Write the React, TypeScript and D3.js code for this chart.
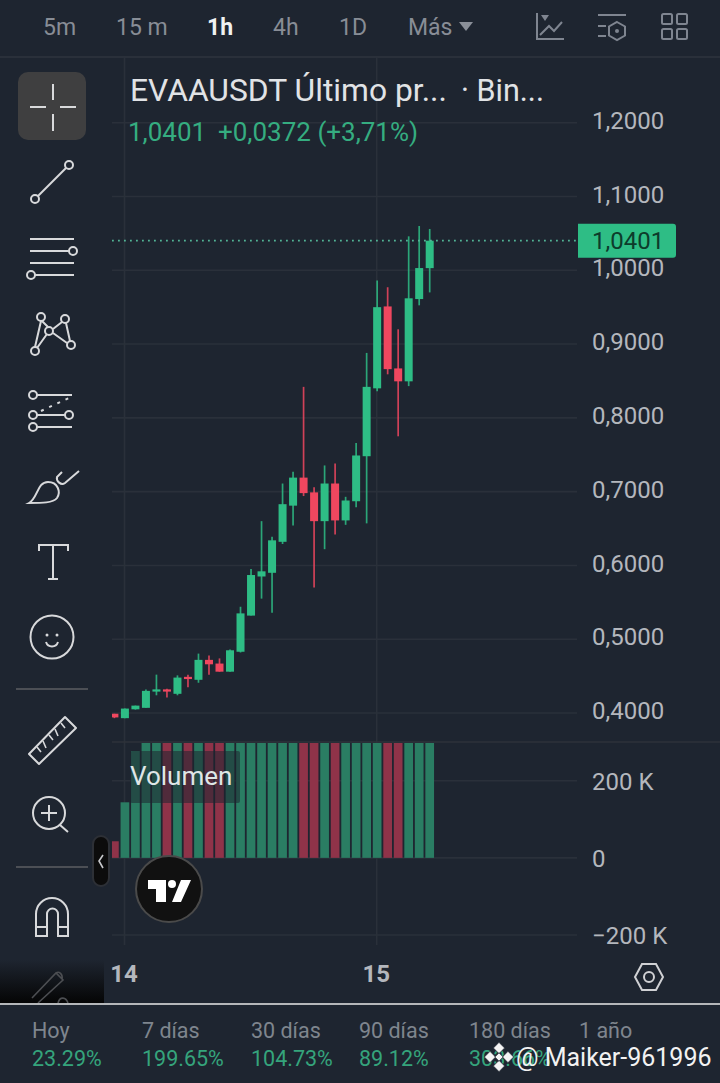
import React, { useEffect, useRef } from 'react';
import * as d3 from 'd3';

// hourly candles
const opens = [0.399, 0.393, 0.405, 0.407, 0.429, 0.432, 0.426, 0.449, 0.445, 0.472, 0.467, 0.456, 0.483, 0.532, 0.585, 0.59, 0.632, 0.681, 0.719, 0.699, 0.66, 0.711, 0.661, 0.687, 0.748, 0.84, 0.951, 0.867, 0.8495, 0.961, 1.0029];
const closes = [0.394, 0.406, 0.41, 0.43, 0.432, 0.429, 0.448, 0.446, 0.472, 0.466, 0.456, 0.485, 0.535, 0.587, 0.592, 0.634, 0.683, 0.719, 0.698, 0.66, 0.711, 0.661, 0.688, 0.749, 0.842, 0.95, 0.866, 0.8495, 0.962, 1.003, 1.0401];
const highs = [0.399, 0.406, 0.41, 0.432, 0.452, 0.433, 0.451, 0.452, 0.4805, 0.478, 0.474, 0.486, 0.544, 0.595, 0.66, 0.639, 0.711, 0.727, 0.842, 0.706, 0.7355, 0.738, 0.693, 0.766, 0.888, 0.986, 0.977, 0.92, 1.046, 1.06, 1.056];
const lows = [0.393, 0.393, 0.4046, 0.407, 0.424, 0.421, 0.424, 0.435, 0.441, 0.452, 0.456, 0.456, 0.482, 0.532, 0.555, 0.536, 0.629, 0.654, 0.694, 0.57, 0.622, 0.642, 0.655, 0.679, 0.657, 0.836, 0.859, 0.775, 0.843, 0.9525, 0.97];
// most of the bars run off the top of the pane, so those are only lower bounds
const volumes = [43000, 144000, 277000, 320000, 320000, 320000, 320000, 320000, 320000, 320000, 320000, 320000, 320000, 320000, 320000, 320000, 320000, 320000, 320000, 320000, 320000, 320000, 320000, 320000, 320000, 320000, 320000, 320000, 320000, 320000, 320000];

const priceTicks = [0.4, 0.5, 0.6, 0.7, 0.8, 0.9, 1.0, 1.1, 1.2];
const volumeTicks = [-200000, 0, 200000];
const dayTicks = [1, 25];
const dayLabels = ['14', '15'];
const lastPrice = 1.0401;

const periods = ['5m', '15 m', '1h', '4h', '1D', 'Más'];
const periodX = [43, 116, 207, 273, 339, 408];
const rangeNames = ['Hoy', '7 días', '30 días', '90 días', '180 días', '1 año'];
const rangeValues = ['23.29%', '199.65%', '104.73%', '89.12%', '303.66%', ''];
const rangeX = [32, 142, 251, 359, 469, 579];

const BG = '#1e2530';
const GRID = '#2a303a';
const UP = '#2ebd85';
const DOWN = '#f0475f';
const UP_VOL = '#2a7d63';
const DOWN_VOL = '#8f3349';
const AXIS_TEXT = '#b4b7bd';
const FONT = 'Roboto, sans-serif';
const ICON = '#d8d9db';

const Sidebar = () => (
  <g fill="none" stroke={ICON} strokeWidth={2}>
    <rect x={18} y={72} width={68} height={68} rx={10} fill="#3f3f40" stroke="none" />
    <path d="M53 84V100M53 114V131M30 107H46M60 107H76" />
    <path d="M38 196L66 168" />
    <circle cx={35} cy={199} r={4} />
    <circle cx={69} cy={165} r={4} />
    <path d="M30 239H74M30 251H69M30 263H74M35 275H74" />
    <circle cx={73} cy={251} r={4} />
    <circle cx={31} cy={275} r={4} />
    <path d="M41 321L35 347M37 348L47 334M42 321L48 327M53 329L62 322M66 323L70 341M53 333L67 343" />
    <circle cx={41} cy={317} r={4} />
    <circle cx={65} cy={319} r={4} />
    <circle cx={49} cy={331} r={4} />
    <circle cx={71} cy={345} r={4} />
    <circle cx={35} cy={351} r={4} />
    <path d="M37 395H72M37 415H65M37 427H72" />
    <circle cx={33} cy={395} r={4} />
    <circle cx={33} cy={415} r={4} />
    <circle cx={69} cy={415} r={4} />
    <circle cx={33} cy={427} r={4} />
    <path d="M41 411L69 398" strokeDasharray="3 6" />
    <path d="M29 503C38 498 37 482 48 482C58 482 61 492 57 498C53 503 42 503 29 503Z" />
    <path d="M62 472L57 477C56 481 61 486 65 483L79 471" />
    <path d="M39 551V545H68V551M53 545V579M48 579H58" />
    <circle cx={52} cy={637} r={21.5} />
    <circle cx={47} cy={635} r={1.5} fill={ICON} stroke="none" />
    <circle cx={57} cy={635} r={1.5} fill={ICON} stroke="none" />
    <path d="M46 642C48 648 56 648 58 642" />
    <path d="M16 689H88M16 867H88" stroke="#4c4f55" />
    <path d="M29 754L65 717L76 728L39 764Z" strokeLinejoin="round" />
    <path d="M37 747L41 752M43 741L46 748M49 735L53 740M55 729L58 736M61 723L65 728" strokeWidth={1.6} />
    <circle cx={49} cy={813} r={16} />
    <path d="M49 805V821M41 813H57M60 825L68 832" />
    <path d="M36 936V914A16 16 0 0 1 68 914V936H58V914A5.5 5.5 0 0 0 47 914V936ZM36 927H47M58 927H68" />
    <path d="M32 998L56 973L63 980L38 1003M56 973C59 971 63 974 62 979M58 1003C60 996 66 997 68 1003" stroke="#4c4e52" strokeWidth={1.6} />
    <rect x={93} y={836} width={16} height={50} rx={8} fill="#0c0c0c" stroke="#2d3036" />
    <path d="M103 855L99 861L103 868" stroke="#c8c9cc" strokeWidth={1.6} />
    <circle cx={169} cy={889} r={33} fill="#111" stroke="#4a4a4a" />
    <path d="M148 880H166V902H156V889H148ZM191 880L181 902H172L181 880Z" fill="#fff" stroke="none" />
    <circle cx={172} cy={884} r={4} fill="#fff" stroke="none" />
  </g>
);

const TopIcons = () => (
  <g fill="none" stroke="#7f8590" strokeWidth={2}>
    <path d="M537 13V39H564M540 35L549 26L554 31L562 22" />
    <path d="M541 15H549L545 21Z" fill="#7f8590" stroke="none" />
    <path d="M598 15H626M598 26H606M598 36H606M617 22L625 26.5V35.5L617 40L609 35.5V26.5Z" />
    <circle cx={617} cy={31} r={2} fill="#7f8590" stroke="none" />
    <rect x={662} y={14} width={10} height={10} rx={1.5} />
    <rect x={677} y={14} width={10} height={10} rx={1.5} />
    <rect x={662} y={29} width={10} height={10} rx={1.5} />
    <rect x={677} y={29} width={10} height={10} rx={1.5} />
    <path d="M459 22H473L466 31Z" fill="#8a8f98" stroke="none" />
  </g>
);

const App: React.FC = () => {
  const chartRef = useRef<SVGGElement | null>(null);

  useEffect(() => {
    document.body.style.margin = '0';
    document.body.style.background = BG;
    if (!chartRef.current) return;

    const x = d3.scaleLinear().domain([0, 30]).range([114.4, 429.7]);
    const yPrice = d3.scaleLinear().domain([0.4, 1.2]).range([713, 122.7]);
    const yVolume = d3.scaleLinear().domain([-200000, 200000]).range([935, 780.7]);
    const left = 112;
    const right = 577;
    const paneTop = 743;
    const candleWidth = 8;
    const barWidth = 8.7;

    const root = d3.select(chartRef.current);
    root.selectAll('*').remove();

    const defs = root.append('defs');
    defs.append('clipPath').attr('id', 'price-clip')
      .append('rect').attr('x', left).attr('y', 57).attr('width', right - left).attr('height', paneTop - 57);
    defs.append('clipPath').attr('id', 'volume-clip')
      .append('rect').attr('x', left).attr('y', paneTop).attr('width', right - left).attr('height', 200);

    // vertical day lines
    root.append('g').selectAll('line').data(dayTicks).enter().append('line')
      .attr('x1', d => x(d) - 0.4).attr('x2', d => x(d) - 0.4)
      .attr('y1', 57).attr('y2', 945)
      .attr('stroke', GRID).attr('stroke-width', 1.6);

    // horizontal grid for both panes
    const grid = root.append('g').attr('stroke', GRID).attr('stroke-width', 1.6);
    grid.selectAll('line.p').data(priceTicks).enter().append('line').attr('class', 'p')
      .attr('x1', left).attr('x2', right)
      .attr('y1', d => yPrice(d)).attr('y2', d => yPrice(d));
    grid.selectAll('line.v').data(volumeTicks).enter().append('line').attr('class', 'v')
      .attr('x1', left).attr('x2', right)
      .attr('y1', d => yVolume(d)).attr('y2', d => yVolume(d));
    root.append('line').attr('x1', left).attr('x2', 720).attr('y1', 742).attr('y2', 742)
      .attr('stroke', '#2e323a').attr('stroke-width', 1.6);

    // volume bars, clipped at the pane top
    root.append('g').attr('clip-path', 'url(#volume-clip)')
      .selectAll('rect').data(volumes).enter().append('rect')
      .attr('x', (d, i) => x(i) - barWidth / 2)
      .attr('width', barWidth)
      .attr('y', d => yVolume(d))
      .attr('height', d => yVolume(0) - yVolume(d))
      .attr('fill', (d, i) => (closes[i] >= opens[i] ? UP_VOL : DOWN_VOL));

    // candles
    const candles = root.append('g').attr('clip-path', 'url(#price-clip)')
      .selectAll('g').data(opens).enter().append('g')
      .attr('fill', (d, i) => (closes[i] >= opens[i] ? UP : DOWN))
      .attr('stroke', (d, i) => (closes[i] >= opens[i] ? UP : DOWN));
    candles.append('line')
      .attr('x1', (d, i) => x(i)).attr('x2', (d, i) => x(i))
      .attr('y1', (d, i) => yPrice(highs[i])).attr('y2', (d, i) => yPrice(lows[i]))
      .attr('stroke-width', 1.7).attr('stroke-opacity', 0.85);
    candles.append('rect')
      .attr('x', (d, i) => x(i) - candleWidth / 2)
      .attr('width', candleWidth)
      .attr('y', (d, i) => yPrice(Math.max(opens[i], closes[i])))
      .attr('height', (d, i) => Math.max(1.5, Math.abs(yPrice(opens[i]) - yPrice(closes[i]))))
      .attr('stroke', 'none');

    // last price line and tag
    root.append('line').attr('x1', left).attr('x2', right)
      .attr('y1', yPrice(lastPrice)).attr('y2', yPrice(lastPrice))
      .attr('stroke', '#52b596').attr('stroke-width', 1.8).attr('stroke-dasharray', '1.8 4.2');
    root.append('path')
      .attr('d', `M578 ${yPrice(lastPrice) - 17}H673a3 3 0 0 1 3 3V${yPrice(lastPrice) + 14}a3 3 0 0 1 -3 3H578Z`)
      .attr('fill', UP);

    // legend box lies over the bars
    root.append('rect').attr('x', 130).attr('y', 751).attr('width', 110).attr('height', 52)
      .attr('rx', 2).attr('fill', BG).attr('fill-opacity', 0.55);

    // axes
    const styleAxis = (g: d3.Selection<SVGGElement, unknown, null, undefined>) => {
      g.select('.domain').remove();
      g.selectAll('.tick line').remove();
      g.selectAll('text')
        .attr('fill', AXIS_TEXT)
        .attr('font-family', FONT)
        .attr('font-size', 24)
        .attr('x', 0);
    };
    const priceAxis = d3.axisRight(yPrice)
      .tickValues(priceTicks)
      .tickFormat(d => (d as number).toFixed(4).replace('.', ','));
    root.append('g').attr('transform', 'translate(592,-2)').call(priceAxis).attr('fill', null).call(styleAxis);

    const volumeAxis = d3.axisRight(yVolume)
      .tickValues(volumeTicks)
      .tickFormat(d => {
        const v = d as number;
        if (v === 0) return '0';
        return `${v < 0 ? '−' : ''}${Math.abs(v) / 1000} K`;
      });
    root.append('g').attr('transform', 'translate(592,1)').call(volumeAxis).attr('fill', null).call(styleAxis);

    const dayAxis = d3.axisBottom(x)
      .tickValues(dayTicks)
      .tickFormat((d, i) => dayLabels[i]);
    const dayG = root.append('g').attr('transform', 'translate(0,965)').call(dayAxis).attr('fill', null);
    dayG.call(styleAxis);
    dayG.selectAll('text').attr('font-weight', 700).attr('y', 0).attr('dy', '0.71em').attr('text-anchor', 'middle');
    dayG.selectAll('.tick').attr('transform', d => `translate(${x(d as number) - 1},0)`);

    root.append('text').attr('x', 592).attr('y', yPrice(lastPrice)).attr('dy', '0.35em')
      .attr('font-family', FONT).attr('font-size', 24).attr('fill', '#0d3b2b')
      .text(lastPrice.toFixed(4).replace('.', ','));
  }, []);

  return (
    <svg width={720} height={1083} viewBox="0 0 720 1083" style={{ display: 'block', position: 'absolute', left: 0, top: 0, background: BG }} fontFamily={FONT}>
      <defs>
        <linearGradient id="fade" x1="0" y1="0" x2="0" y2="1">
          <stop offset="0" stopColor={BG} />
          <stop offset="1" stopColor="#050505" />
        </linearGradient>
      </defs>
      <line x1={0} x2={720} y1={57} y2={57} stroke={GRID} strokeWidth={2} />
      <g ref={chartRef} />

      {periods.map((p, i) => (
        <text key={p} x={periodX[i]} y={35} fontSize={23} fontWeight={p === '1h' ? 700 : 400} fill={p === '1h' ? '#f0f1f2' : '#888d96'}>{p}</text>
      ))}
      <TopIcons />

      <text x={130} y={101} fontSize={31.8} fill="#e1e3e6">EVAAUSDT Último pr...</text>
      <text x={461} y={101} fontSize={30.5} fill="#e1e3e6">· Bin...</text>
      <text x={128} y={141} fontSize={26} fill="#35ad80">1,0401</text>
      <text x={218} y={141} fontSize={26} fill="#35ad80">+0,0372 (+3,71%)</text>
      <text x={130} y={785} fontSize={26} fill="#dfe6e6">Volumen</text>

      <rect x={0} y={960} width={104} height={43} fill="url(#fade)" />
      <Sidebar />

      <path d="M635 977L642 964H656L663 977L656 990H642Z" fill="none" stroke="#d0d1d4" strokeWidth={2} />
      <circle cx={649} cy={977} r={5} fill="none" stroke="#d0d1d4" strokeWidth={2} />

      <line x1={0} x2={720} y1={1004} y2={1004} stroke="#e8e8e8" strokeWidth={1.6} />

      {rangeNames.map((n, i) => (
        <text key={n} x={rangeX[i]} y={1038} fontSize={21.5} fill="#7f858e">{n}</text>
      ))}
      {rangeValues.map((v, i) => (
        <text key={rangeNames[i]} x={rangeX[i]} y={1066} fontSize={21.5} fill="#35a47c">{v}</text>
      ))}

      <g fill="#f4f4f4" stroke={BG} strokeWidth={0.8}>
        <rect x={495} y={1044} width={8} height={8} transform="rotate(45 499 1048)" />
        <rect x={486} y={1053} width={8} height={8} transform="rotate(45 490 1057)" />
        <rect x={504} y={1053} width={8} height={8} transform="rotate(45 508 1057)" />
        <rect x={495} y={1062} width={8} height={8} transform="rotate(45 499 1066)" />
        <rect x={496} y={1054} width={6} height={6} transform="rotate(45 499 1057)" />
      </g>
      <text x={516} y={1066} fontSize={25} fill="#f2f2f2">@ Maiker-961996</text>
    </svg>
  );
};

export default App;
